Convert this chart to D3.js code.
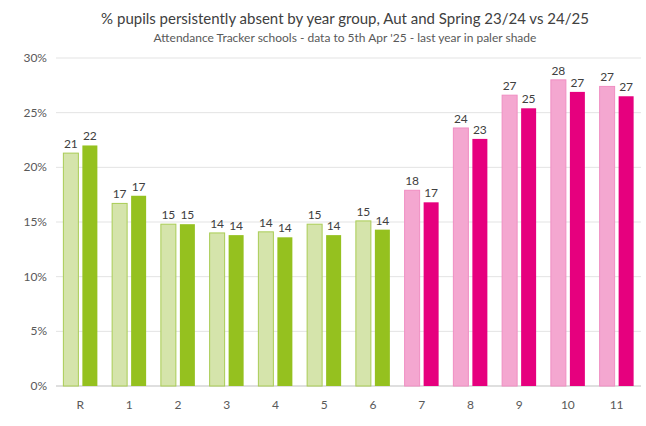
<!DOCTYPE html><html><head><meta charset="utf-8"><script src="https://cdn.jsdelivr.net/npm/d3@7"></script>
<style>body{margin:0;background:#fff}text{font-family:Lato,"Open Sans",sans-serif}</style></head><body><svg id="c" width="646" height="426"></svg><script>
const categories=["R","1","2","3","4","5","6","7","8","9","10","11"];
const prev=[21.3,16.7,14.8,14.0,14.1,14.8,15.1,17.9,23.6,26.6,28.0,27.4];
const curr=[22.0,17.4,14.8,13.8,13.6,13.8,14.3,16.8,22.6,25.4,26.9,26.5];
const ticks=[0,5,10,15,20,25,30];
const svg=d3.select("#c");
const x=d3.scaleBand().domain(categories).range([56,641]).paddingInner(0.2).paddingOuter(0.1);
const y=d3.scaleLinear().domain([0,30]).range([386,58]);
svg.append("g").selectAll("line").data(ticks).join("line").attr("x1",56).attr("x2",641).attr("y1",d=>y(d)).attr("y2",d=>y(d)).attr("stroke",d=>d?"#e3e3e3":"#bfbfbf");
svg.append("g").selectAll("text").data(ticks).join("text").attr("x",47).attr("y",d=>y(d)+4).attr("text-anchor","end").attr("font-size",12).attr("fill","#595959").text(d=>d+"%");
const bw=15,gap=4;
const isG=i=>i<7;
const pc=i=>isG(i)?"#d5e4ab":"#f4a7d0", ps=i=>isG(i)?"#a9cc55":"#f08ec2";
const cc=i=>isG(i)?"#95c11f":"#e6007e";
categories.forEach((c,i)=>{
 const cx=x(c)+x.bandwidth()/2;
 const x1=cx-gap/2-bw, x2=cx+gap/2;
 svg.append("rect").attr("x",x1).attr("y",y(prev[i])).attr("width",bw).attr("height",y(0)-y(prev[i])).attr("fill",pc(i)).attr("stroke",ps(i)).attr("stroke-width",1);
 svg.append("rect").attr("x",x2).attr("y",y(curr[i])).attr("width",bw).attr("height",y(0)-y(curr[i])).attr("fill",cc(i));
 svg.append("text").attr("x",x1+bw/2).attr("y",y(prev[i])-5).attr("text-anchor","middle").attr("font-size",12).attr("fill","#404040").text(Math.round(prev[i]));
 svg.append("text").attr("x",x2+bw/2).attr("y",y(curr[i])-5).attr("text-anchor","middle").attr("font-size",12).attr("fill","#404040").text(Math.round(curr[i]));
 svg.append("text").attr("x",cx).attr("y",409).attr("text-anchor","middle").attr("font-size",12).attr("fill","#595959").text(c);
});
svg.append("text").attr("x",345).attr("y",24).attr("text-anchor","middle").attr("font-size",15).attr("fill","#404040").text("% pupils persistently absent by year group, Aut and Spring 23/24 vs 24/25");
svg.append("text").attr("x",345).attr("y",42).attr("text-anchor","middle").attr("font-size",12).attr("fill","#595959").text("Attendance Tracker schools - data to 5th Apr '25 - last year in paler shade");
</script></body></html>
